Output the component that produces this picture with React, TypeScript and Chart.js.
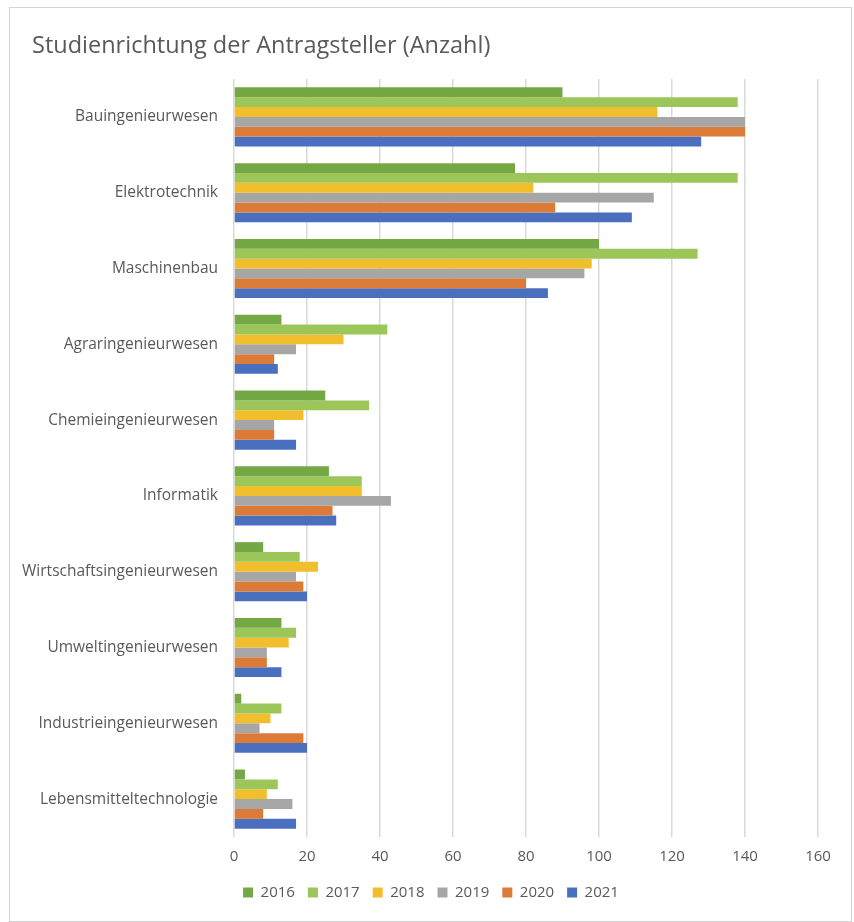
import React, { useEffect, useRef } from "react";
import { Chart, registerables } from "chart.js";

Chart.register(...registerables);

const categories = [
  "Bauingenieurwesen",
  "Elektrotechnik",
  "Maschinenbau",
  "Agraringenieurwesen",
  "Chemieingenieurwesen",
  "Informatik",
  "Wirtschaftsingenieurwesen",
  "Umweltingenieurwesen",
  "Industrieingenieurwesen",
  "Lebensmitteltechnologie",
];

const years = ["2016", "2017", "2018", "2019", "2020", "2021"];

const values2016 = [90, 77, 100, 13, 25, 26, 8, 13, 2, 3];
const values2017 = [138, 138, 127, 42, 37, 35, 18, 17, 13, 12];
const values2018 = [116, 82, 98, 30, 19, 35, 23, 15, 10, 9];
const values2019 = [140, 115, 96, 17, 11, 43, 17, 9, 7, 16];
const values2020 = [140, 88, 80, 11, 11, 27, 19, 9, 19, 8];
const values2021 = [128, 109, 86, 12, 17, 28, 20, 13, 20, 17];

const seriesValues = [values2016, values2017, values2018, values2019, values2020, values2021];
const seriesColors = ["#74A845", "#9DC65A", "#F1BE2E", "#A6A6A6", "#DC7A38", "#4A6FBF"];

const axisMin = 0;
const axisMax = 160;
const axisStep = 20;

const FONT = "'Open Sans', 'Noto Sans', sans-serif";
const TEXT = "#595959";

const legendShift = {
  id: "legendShift",
  afterLayout(chart: any) {
    const lg = chart.legend;
    if (lg) {
      lg.left += 12;
      lg.right += 12;
    }
  },
};

export default function App() {
  const canvasRef = useRef<HTMLCanvasElement | null>(null);

  useEffect(() => {
    if (!canvasRef.current) return;
    const chart = new Chart(canvasRef.current, {
      type: "bar",
      data: {
        labels: categories,
        datasets: years.map((y, i) => ({
          label: y,
          data: seriesValues[i],
          backgroundColor: seriesColors[i],
          borderWidth: 0,
          categoryPercentage: 0.78,
          barPercentage: 1.0,
        })),
      },
      plugins: [legendShift],
      options: {
        indexAxis: "y",
        animation: false,
        responsive: true,
        maintainAspectRatio: false,
        layout: { padding: { top: 71, left: 10, right: 33, bottom: 11 } },
        plugins: {
          title: { display: false },
          tooltip: { enabled: false },
          legend: {
            position: "bottom",
            labels: {
              boxWidth: 10,
              boxHeight: 10,
              padding: 13,
              color: TEXT,
              font: { family: FONT, size: 15 },
            },
          },
        },
        scales: {
          x: {
            min: axisMin,
            max: axisMax,
            ticks: {
              stepSize: axisStep,
              color: TEXT,
              padding: 11,
              font: { family: FONT, size: 15 },
            },
            grid: { color: "#D9D9D9", lineWidth: 1.5, drawTicks: false },
            border: { display: false },
            afterFit: (scale: any) => {
              scale.height = 35;
            },
          },
          y: {
            ticks: {
              color: TEXT,
              padding: 16,
              font: { family: FONT, size: 15.5 },
            },
            grid: { display: false, drawTicks: false },
            border: { display: false },
            afterFit: (scale: any) => {
              scale.width = 214;
            },
          },
        },
      },
    });
    return () => chart.destroy();
  }, []);

  return (
    <div style={{ position: "absolute", left: 0, top: 0, width: 854, height: 922, background: "#ffffff" }}>
      <div
        style={{
          position: "absolute",
          left: 9,
          top: 7,
          width: 843,
          height: 915,
          boxSizing: "border-box",
          border: "1px solid #D4D4D4",
        }}
      >
        <div style={{ position: "relative", width: 841, height: 913 }}>
          <canvas ref={canvasRef} />
        </div>
      </div>
      <div
        style={{
          position: "absolute",
          left: 32,
          top: 29,
          fontFamily: FONT,
          fontSize: 23.5,
          lineHeight: "30px",
          color: TEXT,
          whiteSpace: "nowrap",
        }}
      >
        Studienrichtung der Antragsteller (Anzahl)
      </div>
    </div>
  );
}
